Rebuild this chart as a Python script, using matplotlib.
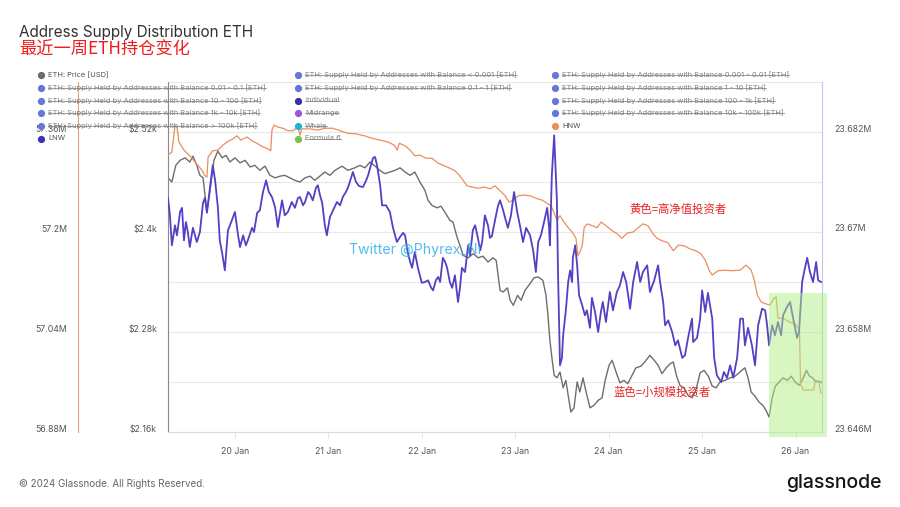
import matplotlib

matplotlib.use("Agg")
import matplotlib.pyplot as plt
import matplotlib.dates as mdates
from matplotlib.lines import Line2D
from matplotlib.transforms import ScaledTranslation
import pandas as pd

plt.rcParams["font.family"] = ["Inter", "Noto Sans CJK SC", "DejaVu Sans"]

# hours since 19 Jan 2024 00:00 (UTC)
BASE = pd.Timestamp("2024-01-19")

price_hours = [
    6.8, 7.8, 8.8, 9.9, 11.2, 12.4, 13.2, 14.2, 15.0, 15.8,
    16.8, 17.6, 18.6, 19.6, 20.7, 21.7, 22.7, 24.0, 25.3, 26.6,
    27.9, 29.1, 30.4, 31.7, 33.0, 34.3, 35.6, 36.8, 38.1, 39.4,
    40.7, 42.0, 43.3, 44.5, 45.8, 47.1, 48.4, 49.7, 51.5, 53.0,
    54.8, 56.1, 57.4, 58.7, 60.0, 61.2, 62.5, 63.8, 65.1, 66.4,
    67.7, 69.0, 70.2, 71.5, 72.8, 73.6, 74.6, 75.9, 76.9, 77.9,
    79.2, 80.0, 81.1, 81.8, 82.6, 83.9, 85.2, 86.5, 87.7, 89.0,
    90.3, 91.1, 91.6, 92.1, 92.9, 94.0, 94.7, 95.5, 96.6, 97.5,
    98.5, 99.8, 100.8, 101.9, 103.1, 103.9, 104.4, 104.9, 105.5, 106.0,
    106.7, 107.5, 108.3, 109.0, 109.8, 110.3, 111.1, 111.9, 112.6, 113.4,
    114.2, 115.2, 116.2, 117.3, 118.3, 119.1, 120.1, 120.9, 121.9, 122.9,
    123.9, 124.9, 126.0, 127.0, 128.3, 129.6, 130.6, 131.7, 132.7, 133.7,
    134.8, 135.8, 136.6, 137.4, 138.3, 139.3, 140.4, 141.4, 142.4, 143.5,
    144.5, 145.6, 146.6, 147.6, 148.6, 149.9, 151.2, 152.5, 153.7, 155.0,
    155.8, 156.6, 157.6, 158.6, 159.6, 160.4, 161.2, 162.0, 162.8, 163.8,
    164.8, 165.9, 166.9, 167.9, 169.0, 170.0, 170.8, 171.6, 172.4, 173.2,
    174.0, 174.8,
]
price_usd = [
    2465, 2460, 2480, 2486, 2489, 2484, 2491, 2480, 2468, 2465,
    2424, 2450, 2486, 2497, 2489, 2492, 2484, 2489, 2483, 2486,
    2478, 2480, 2474, 2479, 2468, 2465, 2467, 2468, 2465, 2462,
    2460, 2465, 2467, 2462, 2467, 2472, 2468, 2474, 2479, 2474,
    2477, 2480, 2477, 2484, 2479, 2474, 2470, 2472, 2474, 2477,
    2472, 2468, 2472, 2460, 2450, 2438, 2432, 2429, 2431, 2424,
    2414, 2412, 2393, 2384, 2372, 2369, 2374, 2369, 2371, 2364,
    2369, 2366, 2348, 2330, 2328, 2333, 2318, 2312, 2324, 2318,
    2330, 2338, 2345, 2346, 2342, 2324, 2300, 2270, 2246, 2228,
    2225, 2232, 2213, 2222, 2198, 2184, 2189, 2220, 2208, 2225,
    2208, 2189, 2192, 2198, 2201, 2222, 2240, 2246, 2232, 2219,
    2222, 2218, 2228, 2237, 2239, 2246, 2252, 2246, 2240, 2230,
    2237, 2242, 2244, 2228, 2216, 2213, 2204, 2201, 2210, 2231,
    2234, 2227, 2215, 2213, 2220, 2222, 2225, 2227, 2232, 2237,
    2225, 2208, 2203, 2196, 2192, 2186, 2178, 2201, 2215, 2220,
    2225, 2222, 2227, 2220, 2216, 2225, 2234, 2227, 2225, 2220,
    2221, 2219,
]

hnw_hours = [
    6.8, 7.8, 8.6, 9.1, 9.6, 10.9, 12.4, 14.0, 15.5, 16.3,
    16.8, 17.1, 18.3, 19.6, 20.9, 22.2, 23.5, 24.5, 25.5, 27.1,
    28.4, 29.9, 31.2, 32.5, 33.2, 33.5, 34.0, 35.0, 36.3, 37.6,
    38.9, 40.2, 40.7, 41.2, 43.3, 45.3, 47.1, 49.2, 51.0, 53.0,
    55.1, 57.2, 59.2, 61.2, 63.3, 64.9, 65.7, 66.2, 67.7, 69.0,
    70.2, 71.5, 73.1, 74.6, 76.2, 77.7, 79.2, 80.5, 81.6, 82.6,
    83.6, 84.9, 86.5, 88.0, 89.6, 90.8, 92.1, 93.4, 94.4, 95.5,
    96.8, 98.3, 99.8, 101.3, 102.9, 104.2, 105.2, 105.9, 106.7, 107.5,
    108.5, 109.6, 110.6, 111.6, 112.1, 112.6, 113.2, 113.7, 114.5, 115.8,
    117.0, 118.1, 119.3, 120.9, 122.2, 123.4, 124.7, 126.3, 127.6, 128.8,
    130.1, 131.4, 132.4, 133.7, 135.2, 136.6, 137.9, 139.3, 140.9, 142.4,
    143.7, 144.8, 145.8, 146.6, 148.1, 149.9, 151.7, 153.8, 155.3, 156.6,
    157.4, 158.2, 159.2, 160.4, 161.4, 162.5, 163.0, 163.5, 164.8, 166.4,
    167.9, 169.0, 169.3, 170.0, 171.3, 172.6, 173.2, 174.0, 174.5,
]
hnw_m = [
    57.323, 57.328, 57.370, 57.368, 57.344, 57.331, 57.322, 57.310, 57.299, 57.290,
    57.288, 57.320, 57.330, 57.331, 57.339, 57.345, 57.349, 57.354, 57.347, 57.352,
    57.346, 57.341, 57.336, 57.333, 57.330, 57.363, 57.371, 57.368, 57.366, 57.362,
    57.362, 57.368, 57.355, 57.365, 57.365, 57.363, 57.366, 57.366, 57.362, 57.358,
    57.357, 57.354, 57.350, 57.347, 57.344, 57.339, 57.331, 57.342, 57.338, 57.331,
    57.322, 57.323, 57.318, 57.318, 57.310, 57.306, 57.302, 57.298, 57.291, 57.283,
    57.274, 57.272, 57.270, 57.272, 57.269, 57.274, 57.266, 57.258, 57.248, 57.251,
    57.258, 57.259, 57.258, 57.254, 57.251, 57.246, 57.242, 57.232, 57.219, 57.226,
    57.216, 57.207, 57.200, 57.190, 57.162, 57.168, 57.178, 57.207, 57.213, 57.210,
    57.207, 57.216, 57.210, 57.202, 57.197, 57.190, 57.198, 57.200, 57.207, 57.213,
    57.210, 57.197, 57.190, 57.186, 57.183, 57.170, 57.179, 57.178, 57.173, 57.170,
    57.165, 57.155, 57.139, 57.131, 57.138, 57.139, 57.138, 57.139, 57.147, 57.139,
    57.123, 57.099, 57.088, 57.085, 57.083, 57.094, 57.096, 57.062, 57.062, 57.056,
    57.053, 57.043, 56.957, 56.947, 56.947, 56.947, 56.963, 56.960, 56.942,
]

lnw_hours = [
    6.8, 7.3, 7.8, 8.6, 9.1, 9.9, 10.4, 10.9, 11.4, 11.9,
    12.4, 13.2, 14.2, 15.0, 15.8, 16.3, 16.8, 17.6, 18.3, 18.9,
    19.6, 20.1, 20.7, 21.4, 22.2, 23.2, 24.0, 24.8, 25.3, 26.1,
    26.8, 27.3, 28.4, 28.9, 29.7, 30.4, 31.2, 32.0, 32.7, 33.5,
    34.3, 35.0, 36.1, 36.8, 37.6, 38.6, 39.4, 40.2, 40.7, 41.5,
    42.0, 42.8, 43.3, 44.0, 44.8, 45.3, 45.8, 46.4, 47.1, 47.6,
    48.4, 49.2, 50.2, 51.0, 51.7, 52.5, 53.0, 53.5, 54.3, 55.1,
    55.9, 56.9, 57.7, 58.2, 58.9, 59.5, 60.0, 60.5, 61.3, 61.8,
    62.8, 63.8, 64.6, 65.6, 66.4, 67.2, 67.7, 68.4, 69.0, 69.5,
    70.2, 71.0, 71.5, 72.0, 72.8, 73.6, 74.4, 74.9, 75.6, 76.2,
    76.7, 77.4, 78.0, 78.5, 79.2, 79.8, 80.5, 81.3, 81.8, 82.3,
    83.1, 83.9, 84.4, 85.1, 85.7, 86.4, 87.0, 87.5, 88.2, 89.0,
    89.5, 90.0, 90.8, 91.6, 92.1, 92.9, 93.4, 94.1, 94.9, 95.7,
    96.5, 97.2, 98.0, 98.8, 99.8, 100.6, 101.3, 101.9, 102.6, 103.4,
    104.2, 104.7, 104.9, 105.4, 106.0, 106.5, 106.7, 107.0, 107.5, 108.0,
    108.3, 109.0, 109.6, 110.1, 110.6, 110.8, 111.4, 111.9, 112.4, 113.2,
    113.9, 114.4, 115.2, 115.7, 116.5, 117.3, 118.0, 118.5, 119.3, 120.3,
    121.1, 122.1, 122.9, 123.7, 124.5, 125.5, 126.3, 127.3, 128.1, 128.8,
    129.9, 130.6, 131.7, 132.7, 133.2, 134.0, 134.5, 135.3, 136.3, 137.1,
    137.8, 138.9, 139.6, 140.4, 141.4, 141.7, 142.7, 143.5, 144.0, 144.8,
    145.5, 146.6, 147.1, 147.8, 148.9, 149.6, 150.4, 151.2, 152.0, 153.0,
    153.8, 154.5, 155.0, 155.8, 156.8, 157.6, 158.4, 159.4, 160.2, 160.7,
    161.2, 162.0, 162.7, 163.5, 164.3, 164.8, 165.8, 166.6, 167.4, 168.4,
    168.9, 169.7, 170.2, 171.0, 171.7, 172.5, 173.3, 173.8, 174.6,
]
lnw_m = [
    23.6741, 23.6720, 23.6684, 23.6708, 23.6696, 23.6724, 23.6729, 23.6690, 23.6712, 23.6700,
    23.6682, 23.6705, 23.6688, 23.6700, 23.6735, 23.6741, 23.6723, 23.6754, 23.6780, 23.6762,
    23.6730, 23.6690, 23.6675, 23.6654, 23.6702, 23.6714, 23.6724, 23.6696, 23.6682, 23.6696,
    23.6684, 23.6690, 23.6705, 23.6700, 23.6723, 23.6726, 23.6748, 23.6762, 23.6748, 23.6742,
    23.6730, 23.6706, 23.6738, 23.6720, 23.6724, 23.6736, 23.6729, 23.6741, 23.6742, 23.6732,
    23.6736, 23.6748, 23.6745, 23.6738, 23.6753, 23.6756, 23.6745, 23.6735, 23.6708, 23.6696,
    23.6718, 23.6726, 23.6736, 23.6732, 23.6742, 23.6748, 23.6753, 23.6760, 23.6772, 23.6760,
    23.6755, 23.6754, 23.6762, 23.6768, 23.6780, 23.6789, 23.6790, 23.6780, 23.6756, 23.6732,
    23.6732, 23.6724, 23.6705, 23.6688, 23.6694, 23.6699, 23.6696, 23.6675, 23.6664, 23.6657,
    23.6676, 23.6657, 23.6648, 23.6639, 23.6640, 23.6642, 23.6633, 23.6630, 23.6642, 23.6646,
    23.6640, 23.6669, 23.6664, 23.6657, 23.6640, 23.6633, 23.6648, 23.6616, 23.6633, 23.6657,
    23.6652, 23.6684, 23.6672, 23.6702, 23.6708, 23.6693, 23.6678, 23.6688, 23.6720, 23.6708,
    23.6693, 23.6695, 23.6714, 23.6732, 23.6738, 23.6726, 23.6717, 23.6705, 23.6720, 23.6748,
    23.6724, 23.6708, 23.6688, 23.6705, 23.6696, 23.6678, 23.6652, 23.6688, 23.6696, 23.6712,
    23.6729, 23.6705, 23.6684, 23.6768, 23.6816, 23.6760, 23.6738, 23.6648, 23.6540, 23.6549,
    23.6576, 23.6606, 23.6640, 23.6654, 23.6640, 23.6669, 23.6684, 23.6660, 23.6624, 23.6612,
    23.6600, 23.6606, 23.6585, 23.6621, 23.6604, 23.6580, 23.6604, 23.6616, 23.6592, 23.6628,
    23.6606, 23.6628, 23.6636, 23.6652, 23.6640, 23.6608, 23.6640, 23.6664, 23.6640, 23.6652,
    23.6660, 23.6628, 23.6642, 23.6660, 23.6640, 23.6616, 23.6588, 23.6594, 23.6580, 23.6564,
    23.6570, 23.6549, 23.6552, 23.6573, 23.6596, 23.6568, 23.6573, 23.6596, 23.6630, 23.6604,
    23.6627, 23.6596, 23.6549, 23.6528, 23.6520, 23.6532, 23.6525, 23.6540, 23.6525, 23.6549,
    23.6596, 23.6596, 23.6564, 23.6585, 23.6564, 23.6540, 23.6588, 23.6608, 23.6606, 23.6588,
    23.6564, 23.6588, 23.6576, 23.6592, 23.6576, 23.6600, 23.6610, 23.6616, 23.6596, 23.6573,
    23.6580, 23.6640, 23.6652, 23.6669, 23.6652, 23.6640, 23.6664, 23.6642, 23.6640,
]

# axis ranges / ticks
X_START_H, X_END_H = 6.8, 174.8
price_lim = (2160, 2580)
price_ticks = [2160, 2280, 2400, 2520]
price_minor = [2220, 2340, 2460, 2580]
price_labels = ["$2.16k", "$2.28k", "$2.4k", "$2.52k"]
hnw_lim = (56.88, 57.44)
hnw_ticks = [56.88, 57.04, 57.2, 57.36]
hnw_labels = ["56.88M", "57.04M", "57.2M", "57.36M"]
lnw_lim = (23.646, 23.688)
lnw_ticks = [23.646, 23.658, 23.67, 23.682]
lnw_labels = ["23.646M", "23.658M", "23.67M", "23.682M"]

# highlighted window (green box)
HL_START_H, HL_END_H, HL_TOP = 161.2, 176.1, 23.6627

SUPPLY = "ETH: Supply Held by Addresses with Balance "
legend_cols = [
    [("ETH: Price [USD]", "#6b6b6b", False),
     (SUPPLY + "0.01 - 0.1 [ETH]", "#6478dc", True),
     (SUPPLY + "10 - 100 [ETH]", "#6478dc", True),
     (SUPPLY + "1k - 10k [ETH]", "#6478dc", True),
     (SUPPLY + "> 100k [ETH]", "#6478dc", True),
     ("LNW", "#3f31b4", False)],
    [(SUPPLY + "< 0.001 [ETH]", "#6478dc", True),
     (SUPPLY + "0.1 - 1 [ETH]", "#6478dc", True),
     ("Individual", "#3b2fa8", True),
     ("Midrange", "#a152dc", True),
     ("Whale", "#1fb3d2", True),
     ("Formula 6", "#79c24f", True)],
    [(SUPPLY + "0.001 - 0.01 [ETH]", "#6478dc", True),
     (SUPPLY + "1 - 10 [ETH]", "#6478dc", True),
     (SUPPLY + "100 - 1k [ETH]", "#6478dc", True),
     (SUPPLY + "10k - 100k [ETH]", "#6478dc", True),
     ("HNW", "#e8915e", False)],
]

PRICE_C = "#6e6e6e"
HNW_C = "#ec8d5e"
LNW_C = "#5241c4"
W, H = 900, 507


def at(hours):
    return BASE + pd.to_timedelta(hours, unit="h")


def fx(px):
    return px / W


def fy(py):
    return 1 - py / H


fig = plt.figure(figsize=(9, 5.07), dpi=100)
ax = fig.add_axes([fx(168), 75 / H, 654 / W, 350 / H])
ax_h = ax.twinx()
ax_l = ax.twinx()

ax.plot(at(price_hours), price_usd, color=PRICE_C, lw=1.0, zorder=2)
ax_h.plot(at(hnw_hours), hnw_m, color=HNW_C, lw=0.9, zorder=2)
ax_l.plot(at(lnw_hours), lnw_m, color=LNW_C, lw=1.3, zorder=2)

top_frac = (HL_TOP - lnw_lim[0]) / (lnw_lim[1] - lnw_lim[0])
ax_l.axvspan(at([HL_START_H])[0], at([HL_END_H])[0], ymin=-0.015, ymax=top_frac,
             color="#b3ee84", alpha=0.5, lw=0, zorder=5, clip_on=False)

ax.set_xlim(at([X_START_H])[0], at([X_END_H])[0])
ax.xaxis.set_major_locator(mdates.DayLocator())
ax.xaxis.set_major_formatter(mdates.DateFormatter("%d %b"))
ax.tick_params(axis="x", length=4, color="#e4e4e4", pad=7, labelsize=6.3,
               labelcolor="#555555")

ax.set_ylim(*price_lim)
ax.set_yticks(price_ticks, price_labels)
ax.set_yticks(price_minor, minor=True)
ax.grid(True, which="both", axis="y", color="#e8e8e8", lw=0.8)
ax.tick_params(axis="y", which="both", length=0, pad=7.9, labelsize=6.3,
               labelcolor="#555555")

ax_h.set_ylim(*hnw_lim)
ax_h.yaxis.tick_left()
ax_h.set_yticks(hnw_ticks, hnw_labels)
ax_h.tick_params(axis="y", length=0, pad=7.9, labelsize=6.3, labelcolor="#555555")

ax_l.set_ylim(*lnw_lim)
ax_l.set_yticks(lnw_ticks, lnw_labels)
ax_l.tick_params(axis="y", length=0, pad=8.6, labelsize=6.3, labelcolor="#555555")

for a in (ax, ax_h, ax_l):
    a.spines["top"].set_visible(False)
ax.spines["right"].set_visible(False)
ax.spines["left"].set_color("#8a8a8a")
ax.spines["bottom"].set_color("#dcdcdc")
ax_h.spines["right"].set_visible(False)
ax_h.spines["bottom"].set_visible(False)
ax_h.spines["left"].set_visible(True)
ax_h.spines["left"].set_position(("outward", 64.8))
ax_h.spines["left"].set_color("#eba27c")
ax_l.spines["left"].set_visible(False)
ax_l.spines["bottom"].set_visible(False)
ax_l.spines["right"].set_color("#c4c4f4")

# glassnode puts value labels slightly above the gridline
lift = ScaledTranslation(0, 0.04, fig.dpi_scale_trans)
for a in (ax, ax_h, ax_l):
    for lbl in a.get_yticklabels():
        lbl.set_transform(lbl.get_transform() + lift)

# titles
fig.text(fx(19), fy(32), "Address Supply Distribution ETH", fontsize=11,
         color="#333333", va="center")
fig.text(fx(19), fy(50), "最近一周ETH持仓变化", fontsize=12.4, color="#f01c1c",
         va="center", family=["Noto Sans CJK SC", "DejaVu Sans"])

# legend
struck = []
row_y = [75, 88, 100.5, 113, 126, 138.5]
col_x = [41, 298, 555]
for cx, entries in zip(col_x, legend_cols):
    for ry, (label, c, off) in zip(row_y, entries):
        fig.add_artist(Line2D([fx(cx)], [fy(ry)], marker="o", markersize=4.2,
                              color=c, transform=fig.transFigure))
        t = fig.text(fx(cx + 7), fy(ry), label, fontsize=5.4, va="center",
                     color="#808080" if off else "#505050")
        if off:
            struck.append(t)

# notes written on the chart
fig.text(fx(415), fy(250), "Twitter @Phyrex_Ni", fontsize=10.2, color="#3fb6ea",
         ha="center", va="center", alpha=0.9)
fig.text(fx(678), fy(209), "黄色=高净值投资者", fontsize=8.2, color="#ea2326",
         ha="center", va="center", family=["Noto Sans CJK SC", "DejaVu Sans"])
fig.text(fx(662), fy(392), "蓝色=小规模投资者", fontsize=8.2, color="#ea2326",
         ha="center", va="center", family=["Noto Sans CJK SC", "DejaVu Sans"])

# footer
fig.text(fx(19), fy(484), "© 2024 Glassnode. All Rights Reserved.", fontsize=7.1,
         color="#666666", va="center")
fig.text(fx(882), fy(483), "glassnode", fontsize=14, color="#151515",
         ha="right", va="center", weight="medium")

fig.canvas.draw()
renderer = fig.canvas.get_renderer()
inv = fig.transFigure.inverted()
for t in struck:
    bb = t.get_window_extent(renderer)
    (x0, y0), (x1, y1) = inv.transform([(bb.x0, bb.y0), (bb.x1, bb.y1)])
    ym = y0 + (y1 - y0) * 0.45
    fig.add_artist(Line2D([x0, x1], [ym, ym], transform=fig.transFigure,
                          color="#808080", lw=0.55))

fig.savefig("out.png", dpi=100)
